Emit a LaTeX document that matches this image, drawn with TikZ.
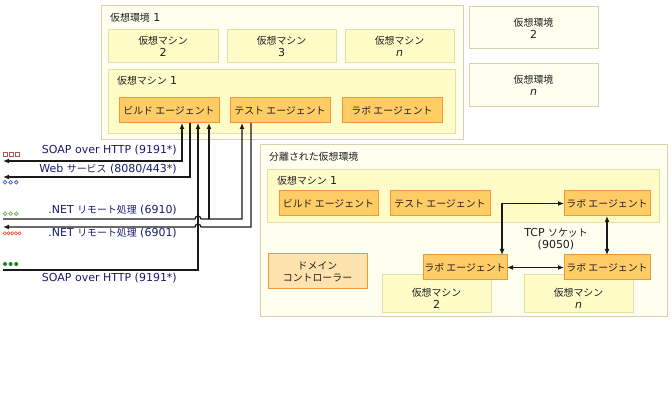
\documentclass[tikz,border=0pt]{standalone}
\usepackage{fontspec}
\setmainfont{DejaVu Sans}
\newfontfamily\jp[Scale=0.9]{Noto Sans CJK JP}
\usetikzlibrary{arrows.meta,calc}
\definecolor{envfill}{HTML}{FFFFF0}
\definecolor{envdraw}{HTML}{D6D2AE}
\definecolor{vmfill}{HTML}{FFFCC8}
\definecolor{vmdraw}{HTML}{E4DFA8}
\definecolor{agfill}{HTML}{FFCC66}
\definecolor{agdraw}{HTML}{EE9933}
\definecolor{dcfill}{HTML}{FFE3AE}
\definecolor{txt}{HTML}{1E1E1E}
\definecolor{lbl}{HTML}{1A1A70}
\definecolor{wire}{HTML}{1A1A1A}
\tikzset{tp/.tip={Latex[length=6pt,width=5pt]}}
\begin{document}
\begin{tikzpicture}[x=1pt,y=-1pt,
  font=\fontsize{11}{12}\selectfont,
  base/.style={anchor=north west, inner sep=0pt, outer sep=0pt, line width=1pt, text=txt, align=center},
  envbox/.style={base, draw=envdraw, fill=envfill},
  vmbox/.style={base, draw=vmdraw, fill=vmfill},
  agbox/.style={base, draw=agdraw, fill=agfill, font=\fontsize{11}{12}\selectfont\jp},
  dcbox/.style={base, draw=agdraw, fill=dcfill, font=\fontsize{11}{12}\selectfont\jp},
  tl/.style={anchor=west, inner sep=0pt, text=txt},
  ctext/.style={inner sep=0pt, text=txt, align=center},
  clbl/.style={anchor=base east, inner sep=0pt, text=lbl},
  wire/.style={draw=wire, line width=1.2pt}
]
\useasboundingbox (0,0) rectangle (672,403);
\fill[white] (0,0) rectangle (672,403);

% ---- virtual environment 1
\node[envbox, minimum width=362pt, minimum height=134pt] (env1) at (101,6) {};
\node[tl] (env1lbl) at (110,18) {{\jp 仮想環境} 1};
\node[vmbox, minimum width=110pt, minimum height=33pt] (vm2) at (108,30) {{\jp 仮想マシン}\\2};
\node[vmbox, minimum width=109pt, minimum height=33pt] (vm3) at (227,30) {{\jp 仮想マシン}\\3};
\node[vmbox, minimum width=109pt, minimum height=33pt] (vmn) at (345,30) {{\jp 仮想マシン}\\\textit{n}};
\node[vmbox, minimum width=347pt, minimum height=64pt] (vm1) at (108,70) {};
\node[tl] (vm1lbl) at (117,81) {{\jp 仮想マシン} 1};
\node[agbox, minimum width=100pt, minimum height=25pt] (build1) at (119,98) {ビルド エージェント};
\node[agbox, minimum width=100pt, minimum height=25pt] (test1) at (230,98) {テスト エージェント};
\node[agbox, minimum width=100pt, minimum height=25pt] (lab1) at (342,98) {ラボ エージェント};

% ---- other environments
\node[envbox, minimum width=129pt, minimum height=42pt] (env2) at (469,7) {{\jp 仮想環境}\\2};
\node[envbox, minimum width=129pt, minimum height=43pt] (envn) at (469,64) {{\jp 仮想環境}\\\textit{n}};

% ---- isolated environment
\node[envbox, minimum width=407pt, minimum height=172pt] (iso) at (260,145) {};
\node[tl] (isolbl) at (269,157) {\jp 分離された仮想環境};
\node[vmbox, minimum width=392pt, minimum height=53pt] (isovm1) at (267,170) {};
\node[tl] (isovm1lbl) at (277,181) {{\jp 仮想マシン} 1};
\node[agbox, minimum width=99pt, minimum height=25pt] (isobuild) at (279,191) {ビルド エージェント};
\node[agbox, minimum width=100pt, minimum height=25pt] (isotest) at (390,191) {テスト エージェント};
\node[agbox, minimum width=86pt, minimum height=25pt] (labA) at (564,191) {ラボ エージェント};
\node[dcbox, minimum width=99pt, minimum height=35pt] (dc) at (268,254) {ドメイン\\コントローラー};
\node[vmbox, minimum width=109pt, minimum height=38pt] (isovm2) at (382,275) {};
\node[ctext] (isovm2lbl) at (436.5,298) {{\jp 仮想マシン}\\2};
\node[agbox, minimum width=84pt, minimum height=25pt] (labB) at (423,255) {ラボ エージェント};
\node[vmbox, minimum width=109pt, minimum height=38pt] (isovmn) at (524,275) {};
\node[ctext] (isovmnlbl) at (578.5,298) {{\jp 仮想マシン}\\\textit{n}};
\node[agbox, minimum width=86pt, minimum height=25pt] (labC) at (564,255) {ラボ エージェント};
\node[ctext] (tcp) at (556,239.5) {TCP {\jp ソケット}\\(9050)};

\draw[wire, {tp}-{tp}] ([xshift=79pt]labB.north west) |- (labA.west);
\draw[wire, {tp}-{tp}] (labA.south) -- (labC.north);
\draw[wire, {tp}-{tp}] (labB.east) -- (labC.west);

% ---- connectors to the left
\coordinate (L1) at (3,161);
\coordinate (L2) at (3,177);
\coordinate (L3) at (3,219);
\coordinate (L4) at (3,227);
\coordinate (L5) at (3,270);
\coordinate (b1) at ([xshift=63pt]build1.south west);
\coordinate (b2) at ([xshift=71pt]build1.south west);
\coordinate (b3) at ([xshift=79pt]build1.south west);
\coordinate (b4) at ([xshift=90pt]build1.south west);
\coordinate (t1) at ([xshift=12pt]test1.south west);
\coordinate (t2) at ([xshift=21pt]test1.south west);

\draw[wire, {tp}-{tp}] (L1) -| (b1);
\draw[wire, -{tp}] (b2) |- (L2);
\draw[wire, {tp}-] (b3) |- (L5);
\draw[wire, -{tp}] (L3) -- ($(b3|-L3)+(-3,0)$) arc[start angle=180,end angle=0,radius=3pt] -- (t1|-L3) -- (t1);
\draw[wire, -{tp}] (b4|-L3) -- (b4);
\draw[wire, {tp}-] (L4) -- ($(b3|-L4)+(-3,0)$) arc[start angle=180,end angle=0,radius=3pt] -- (t2|-L4) -- (t2);

\node[clbl] (s1) at (177,154) {SOAP over HTTP (9191*)};
\node[clbl] (s2) at (177,173) {Web {\jp サービス} (8080/443*)};
\node[clbl] (s3) at (177,213.5) {.NET {\jp リモート処理} (6910)};
\node[clbl] (s4) at (177,237) {.NET {\jp リモート処理} (6901)};
\node[clbl] (s5) at (177,282) {SOAP over HTTP (9191*)};

% ---- legend glyphs
\foreach \i in {0,1,2} {
  \draw[draw={rgb,255:red,170;green,90;blue,80}, line width=0.8pt] (3.5+6*\i,152) rectangle (7.5+6*\i,156);
  \draw[draw={rgb,255:red,70;green,110;blue,200}, line width=0.8pt] (5+5.6*\i,182.3) circle[radius=1.8pt];
  \draw[draw={rgb,255:red,120;green,180;blue,90}, line width=0.8pt] (5+5.6*\i,213.7) circle[radius=1.8pt];
  \fill[fill={rgb,255:red,30;green,130;blue,30}] (5+5.6*\i,264) circle[radius=2pt];
}
\foreach \i in {0,...,4} {
  \draw[draw={rgb,255:red,240;green,90;blue,60}, line width=0.7pt] (4.8+3.7*\i,233.3) circle[radius=1.6pt];
}
\end{tikzpicture}
\end{document}
